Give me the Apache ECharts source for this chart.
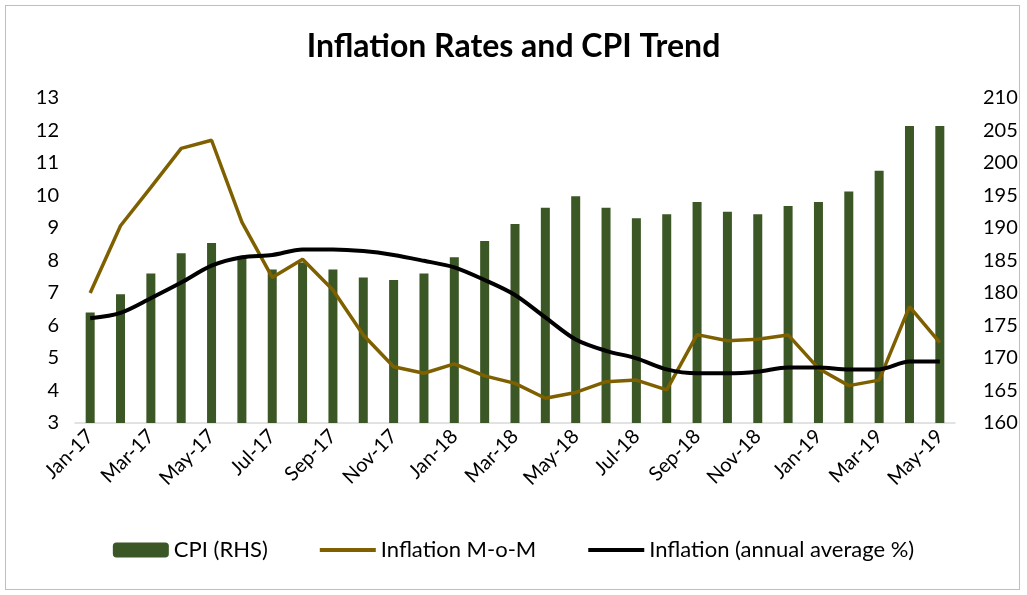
<!DOCTYPE html>
<html>
<head>
<meta charset="utf-8">
<script src="https://cdn.jsdelivr.net/npm/echarts@6/dist/echarts.min.js"></script>
<style>
  html, body { margin: 0; padding: 0; background: #fff; }
  #frame { position: absolute; left: 5px; top: 5px; width: 1013px; height: 583px; border: 1px solid #bfbfbf; }
  #chart { position: absolute; left: 0; top: 0; width: 1027px; height: 595px; }
</style>
</head>
<body>
<div id="frame"></div>
<div id="chart"></div>
<script>
var months = ['Jan-17','Feb-17','Mar-17','Apr-17','May-17','Jun-17','Jul-17','Aug-17','Sep-17','Oct-17','Nov-17','Dec-17',
              'Jan-18','Feb-18','Mar-18','Apr-18','May-18','Jun-18','Jul-18','Aug-18','Sep-18','Oct-18','Nov-18','Dec-18',
              'Jan-19','Feb-19','Mar-19','Apr-19','May-19'];

var cpi = [177.0, 179.8, 183.0, 186.1, 187.7, 185.6, 183.6, 184.7, 183.6, 182.4, 182.0, 183.0,
           185.5, 188.0, 190.6, 193.1, 194.9, 193.1, 191.5, 192.1, 194.0, 192.5, 192.1, 193.4,
           194.0, 195.6, 198.8, 205.7, 205.7];

var inflMoM = [7.0, 9.07, 10.25, 11.45, 11.7, 9.18, 7.48, 8.04, 7.09, 5.71, 4.73, 4.53,
               4.82, 4.45, 4.22, 3.76, 3.94, 4.27, 4.32, 4.02, 5.72, 5.53, 5.58, 5.71,
               4.68, 4.15, 4.32, 6.58, 5.47];

var inflAvg = [6.22, 6.39, 6.84, 7.32, 7.84, 8.1, 8.17, 8.34, 8.34, 8.29, 8.17, 7.99,
               7.79, 7.4, 6.94, 6.25, 5.57, 5.22, 4.99, 4.65, 4.53, 4.53, 4.58, 4.71,
               4.71, 4.65, 4.65, 4.89, 4.89];

var font = 'Lato, "Open Sans", sans-serif';

var myChart = echarts.init(document.getElementById('chart'));

var option = {
    backgroundColor: 'transparent',
    animation: false,
    textStyle: { fontFamily: font, color: '#000' },
    title: {
        text: 'Inflation Rates and CPI Trend',
        left: 'center',
        top: 26,
        textStyle: { fontFamily: font, fontSize: 32, fontWeight: 'bold', color: '#000' }
    },
    legend: {
        bottom: 29,
        left: 'center',
        itemWidth: 56,
        itemHeight: 15,
        itemGap: 50,
        textStyle: { fontFamily: font, fontSize: 22, color: '#000' },
        data: [
            { name: 'CPI (RHS)' },
            { name: 'Inflation M-o-M', itemStyle: { opacity: 0 }, lineStyle: { width: 4 } },
            { name: 'Inflation (annual average %)', itemStyle: { opacity: 0 }, lineStyle: { width: 4 } }
        ]
    },
    grid: { left: 75, right: 72, top: 98, bottom: 172 },
    xAxis: {
        type: 'category',
        data: months,
        axisLine: { lineStyle: { color: '#d9d9d9', width: 1.5 } },
        axisTick: { interval: 1, length: 6, lineStyle: { color: '#d9d9d9', width: 1.5 } },
        axisLabel: { interval: 1, rotate: 45, fontSize: 20, color: '#000', fontFamily: font, margin: 10 }
    },
    yAxis: [
        {
            type: 'value', min: 3, max: 13, interval: 1,
            splitLine: { show: false },
            axisLine: { show: false }, axisTick: { show: false },
            axisLabel: { fontSize: 20, color: '#000', fontFamily: font, margin: 16 }
        },
        {
            type: 'value', min: 160, max: 210, interval: 5,
            splitLine: { show: false },
            axisLine: { show: false }, axisTick: { show: false },
            axisLabel: { fontSize: 20, color: '#000', fontFamily: font, margin: 28 }
        }
    ],
    series: [
        {
            name: 'CPI (RHS)',
            type: 'bar',
            yAxisIndex: 1,
            data: cpi,
            barWidth: 9,
            itemStyle: { color: '#3b5725' }
        },
        {
            name: 'Inflation M-o-M',
            type: 'line',
            data: inflMoM,
            symbol: 'none',
            lineStyle: { color: '#7f6000', width: 3.5 },
            itemStyle: { color: '#7f6000' }
        },
        {
            name: 'Inflation (annual average %)',
            type: 'line',
            data: inflAvg,
            symbol: 'none',
            smooth: 0.3,
            lineStyle: { color: '#000', width: 4 },
            itemStyle: { color: '#000' }
        }
    ]
};

myChart.setOption(option);
</script>
</body>
</html>
